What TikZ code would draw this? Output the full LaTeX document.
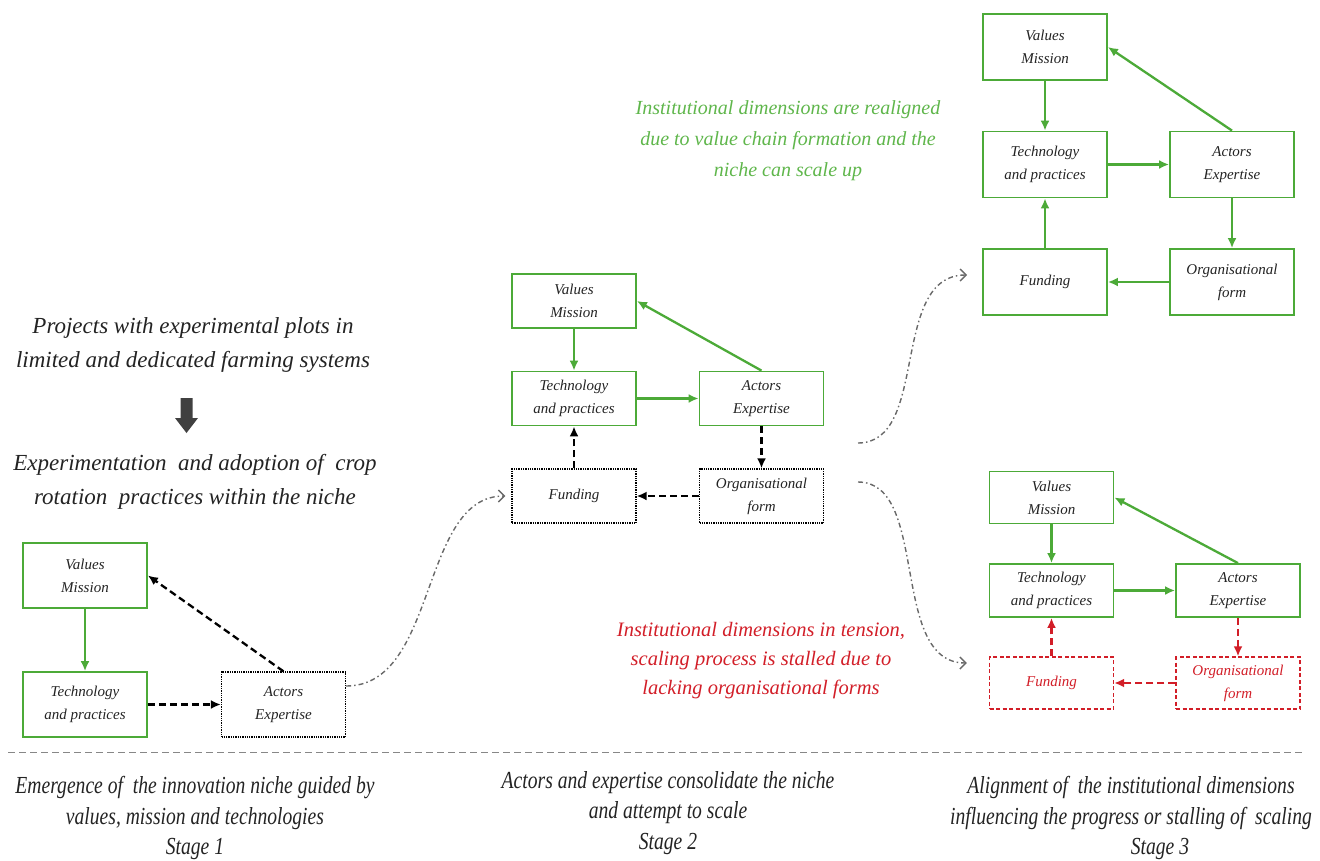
\documentclass[tikz,border=0pt]{standalone}
\usepackage{fontspec}
\setmainfont{Liberation Serif}
\newfontfamily\condfont[FakeStretch=0.8]{Liberation Serif}
\usetikzlibrary{arrows.meta}
\definecolor{gr}{RGB}{76,170,56}
\definecolor{grtext}{RGB}{95,182,75}
\definecolor{rd}{RGB}{210,30,40}
\definecolor{gy}{RGB}{105,105,105}
\definecolor{tx}{RGB}{35,35,35}
\begin{document}
\begin{tikzpicture}[x=1pt,y=-1pt,
  box/.style={draw=gr, line width=1.8pt, minimum width=124pt, minimum height=#1, inner sep=2pt,
    align=center, font=\fontsize{15}{23}\selectfont\itshape, text=tx},
  box/.default=54pt,
  kbox/.style={box=#1, draw=black, line width=1.3pt, densely dotted},
  kbox/.default=54pt,
  rbox/.style={box=#1, draw=rd, line width=1.4pt, dash pattern=on 4pt off 2.5pt, text=rd},
  rbox/.default=52pt,
  garr/.style={draw=gr, line width=2.3pt, -{Latex[length=10pt,width=9pt]}},
  karr/.style={draw=black, line width=2.3pt, dash pattern=on 7pt off 4pt, -{Latex[length=10pt,width=9pt]}},
  rarr/.style={draw=rd, line width=2.3pt, dash pattern=on 7pt off 4pt, -{Latex[length=10pt,width=9pt]}},
  curv/.style={draw=gy, line width=1.4pt, dash pattern=on 5pt off 3pt on 1.5pt off 3pt,
    -{Straight Barb[length=6pt,width=12pt,line width=1.4pt]}},
  bigtxt/.style={align=center, font=\fontsize{23}{34}\selectfont\itshape, text=tx},
  legtxt/.style={align=center, font=\condfont\fontsize{24.5}{30.5}\selectfont\itshape, text=tx}
]
\useasboundingbox (0,0) rectangle (1320,860);

% ---------- Stage 1 ----------
\node[box=65pt] (s1v) at (85,575.5) {Values\\Mission};
\node[box=65pt] (s1t) at (85,704.5) {Technology\\and practices};
\node[kbox=65pt] (s1a) at (283.5,704.5) {Actors\\Expertise};
\draw[garr] (s1v) -- (s1t);
\draw[karr] (s1t) -- (s1a);
\draw[karr] (s1a.north) -- (s1v.east);

% ---------- Stage 2 ----------
\node[box] (s2v) at (574,301) {Values\\Mission};
\node[box] (s2t) at (574,398.5) {Technology\\and practices};
\node[box] (s2a) at (761.5,398.5) {Actors\\Expertise};
\node[kbox] (s2f) at (574,496) {Funding};
\node[kbox] (s2o) at (761.5,496) {Organisational\\form};
\draw[garr] (s2v) -- (s2t);
\draw[garr] (s2t) -- (s2a);
\draw[garr] (s2a.north) -- (s2v.east);
\draw[karr] (s2a) -- (s2o);
\draw[karr] (s2o) -- (s2f);
\draw[karr] (s2f) -- (s2t);

% ---------- Stage 3 (aligned) ----------
\node[box=66pt] (s3v) at (1045,47) {Values\\Mission};
\node[box=66pt] (s3t) at (1045,164.5) {Technology\\and practices};
\node[box=66pt] (s3a) at (1232,164.5) {Actors\\Expertise};
\node[box=66pt] (s3f) at (1045,282) {Funding};
\node[box=66pt] (s3o) at (1232,282) {Organisational\\form};
\draw[garr] (s3v) -- (s3t);
\draw[garr] (s3t) -- (s3a);
\draw[garr] (s3a.north) -- (s3v.east);
\draw[garr] (s3a) -- (s3o);
\draw[garr] (s3o) -- (s3f);
\draw[garr] (s3f) -- (s3t);

% ---------- Stage 3 (tension) ----------
\node[box=52pt] (s4v) at (1051.5,497.5) {Values\\Mission};
\node[box=53pt] (s4t) at (1051.5,590.5) {Technology\\and practices};
\node[box=53pt] (s4a) at (1238,590.5) {Actors\\Expertise};
\node[rbox] (s4f) at (1051.5,683) {Funding};
\node[rbox] (s4o) at (1238,683) {Organisational\\form};
\draw[garr] (s4v) -- (s4t);
\draw[garr] (s4t) -- (s4a);
\draw[garr] (s4a.north) -- (s4v.east);
\draw[rarr] (s4a) -- (s4o);
\draw[rarr] (s4o) -- (s4f);
\draw[rarr] (s4f) -- (s4t);

% ---------- curved transitions ----------
\coordinate (c2a) at (858,443);
\coordinate (c2b) at (858,482);
\draw[curv] ([yshift=18.5pt]s1a.east) .. controls +(92,0) and +(-86,0) .. ([xshift=-6pt]s2f.west);
\draw[curv] (c2a) .. controls +(72,0) and +(-78,0) .. ([xshift=-15pt,yshift=7pt]s3f.west);
\draw[curv] (c2b) .. controls +(72,0) and +(-78,0) .. ([xshift=-22pt,yshift=20pt]s4f.west);

% ---------- texts ----------
\node[bigtxt] (p1) at (193,345) {Projects with experimental plots in\\limited and dedicated farming systems};
\node[bigtxt] (p2) at (195,482) {Experimentation \ and adoption of \ crop\\rotation \ practices within the niche};
\fill[black!75] (180.5,398) -- (192.5,398) -- (192.5,418) -- (198,418) -- (186.5,433) -- (175,418) -- (180.5,418) -- cycle;

\node[align=center, font=\fontsize{20}{31}\selectfont\itshape, text=grtext] (gt) at (788,141)
  {Institutional dimensions are realigned\\due to value chain formation and the\\niche can scale up};
\node[align=center, font=\fontsize{20.5}{29}\selectfont\itshape, text=rd] (rt) at (761,661)
  {Institutional dimensions in tension,\\scaling process is stalled due to\\lacking organisational forms};

\draw[gy!80, line width=1pt, dash pattern=on 7pt off 4pt] (8,752) -- (1305,752);

\node[legtxt] (l1) at (195,818) {Emergence of \ the innovation niche guided by\\values, mission and technologies\\Stage 1};
\node[legtxt] (l2) at (668,813) {Actors and expertise consolidate the niche\\and attempt to scale\\Stage 2};
\node[legtxt] (l3) at (1131,818) {Alignment of \ the institutional dimensions\\influencing the progress or stalling of \ scaling\\\hspace*{58pt}Stage 3};
\end{tikzpicture}
\end{document}
